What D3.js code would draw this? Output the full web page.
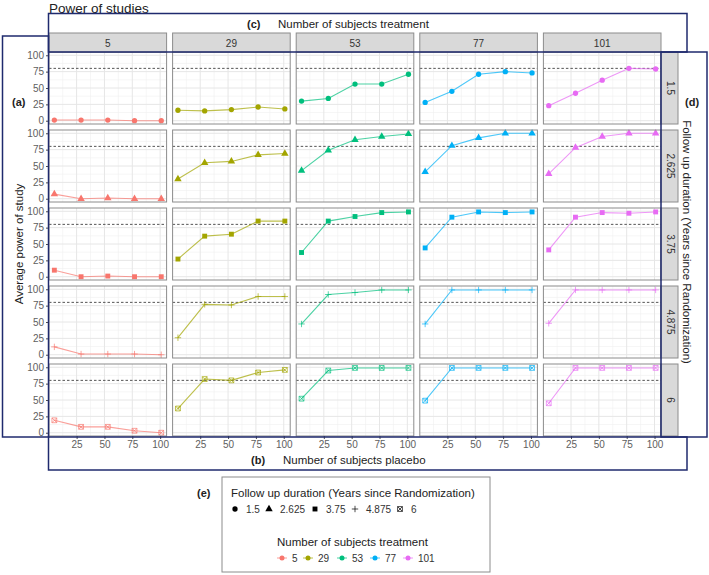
<!DOCTYPE html>
<html>
<head>
<meta charset="utf-8">
<script src="https://cdn.jsdelivr.net/npm/d3@7"></script>
<style>
  body { margin: 0; background: #fff; }
  svg { font-family: "Liberation Sans", Arial, sans-serif; }
</style>
</head>
<body>
<svg id="chart" width="709" height="575"></svg>
<script>
// ---------------- DATA ----------------
const treatment = [5, 29, 53, 77, 101];          // columns (Number of subjects treatment)
const followUp = ["1.5", "2.625", "3.75", "4.875", "6"]; // rows (Follow up duration)
const placebo = [5, 29, 53, 77, 101];            // x values (Number of subjects placebo)
const xTicks = [25, 50, 75, 100];
const yTicks = [0, 25, 50, 75, 100];
const threshold = 80;
const seriesColors = ["#F8766D", "#A3A500", "#00BF7D", "#00B0F6", "#E76BF3"];

// power[followUpIndex][treatmentIndex] = values over placebo
const power_1_5 = [
  [1, 1, 1, 0, 0],
  [16, 15, 17, 21, 18],
  [30, 34, 56, 56, 71],
  [28, 45, 71, 75, 73],
  [23, 42, 62, 80, 79]
];
const power_2_625 = [
  [7, 0, 1, 0, 0],
  [30, 55, 57, 67, 69],
  [43, 74, 90, 95, 99],
  [41, 81, 93, 100, 100],
  [38, 78, 95, 100, 100]
];
const power_3_75 = [
  [10, 0, 1, 0, 0],
  [27, 62, 65, 85, 85],
  [37, 85, 92, 98, 99],
  [44, 91, 99, 98, 99],
  [41, 91, 98, 97, 99]
];
const power_4_875 = [
  [12, 1, 1, 1, 0],
  [26, 77, 76, 89, 89],
  [47, 92, 95, 99, 99],
  [47, 99, 99, 99, 99],
  [48, 99, 99, 99, 99]
];
const power_6 = [
  [19, 9, 9, 3, 0],
  [37, 82, 80, 92, 96],
  [52, 95, 99, 99, 99],
  [49, 99, 99, 99, 99],
  [45, 99, 99, 99, 99]
];
const powerByRow = [power_1_5, power_2_625, power_3_75, power_4_875, power_6];

// ---------------- LAYOUT ----------------
const svg = d3.select("#chart");
const L = { left: 49, right: 661, top: 52, rowH: 72, rowGap: 6, colGap: 6 };
const colW = (L.right - L.left - 4 * L.colGap) / 5;
const colX = i => L.left + i * (colW + L.colGap);
const rowY = j => L.top + j * (L.rowH + L.rowGap);

const x = d3.scaleLinear().domain([0.2, 105.8]).range([0, colW]);
const y = d3.scaleLinear().domain([-5, 105]).range([L.rowH, 0]);

const navy = "#1f2a6e";
const tickCol = "#5e5e5e";

// shape drawers (size ~ ggplot points)
function shapePath(k) {
  const s = 2.4;
  switch (k) {
    case 0: return d3.symbol(d3.symbolCircle, 22)();
    case 1: return d3.symbol(d3.symbolTriangle, 24)();
    case 2: return d3.symbol(d3.symbolSquare, 24)();
    case 3: return `M${-3.2},0H3.2M0,${-3.2}V3.2`;
    case 4: return `M${-s},${-s}H${s}V${s}H${-s}Z M${-s},${-s}L${s},${s} M${s},${-s}L${-s},${s}`;
  }
}
const filledShape = k => k <= 2;

// ---------------- PANELS ----------------
followUp.forEach((fu, j) => {
  treatment.forEach((tr, i) => {
    const g = svg.append("g").attr("transform", `translate(${colX(i)},${rowY(j)})`);
    g.append("rect").attr("width", colW).attr("height", L.rowH).attr("fill", "#fff");
    // minor grid
    const xMinor = [12.5, 37.5, 62.5, 87.5];
    const yMinor = [12.5, 37.5, 62.5, 87.5];
    g.selectAll(".xm").data(xMinor).enter().append("line")
      .attr("x1", d => x(d)).attr("x2", d => x(d)).attr("y1", 0).attr("y2", L.rowH)
      .attr("stroke", "#f0f0f0").attr("stroke-width", 0.6);
    g.selectAll(".ym").data(yMinor).enter().append("line")
      .attr("y1", d => y(d)).attr("y2", d => y(d)).attr("x1", 0).attr("x2", colW)
      .attr("stroke", "#f0f0f0").attr("stroke-width", 0.6);
    // major grid
    g.selectAll(".xg").data(xTicks).enter().append("line")
      .attr("x1", d => x(d)).attr("x2", d => x(d)).attr("y1", 0).attr("y2", L.rowH)
      .attr("stroke", "#e6e6e6").attr("stroke-width", 1);
    g.selectAll(".yg").data(yTicks).enter().append("line")
      .attr("y1", d => y(d)).attr("y2", d => y(d)).attr("x1", 0).attr("x2", colW)
      .attr("stroke", "#e6e6e6").attr("stroke-width", 1);
    // threshold
    g.append("line").attr("x1", 0).attr("x2", colW)
      .attr("y1", y(threshold)).attr("y2", y(threshold))
      .attr("stroke", "#555").attr("stroke-width", 1).attr("stroke-dasharray", "2.5,2");

    const vals = powerByRow[j][i];
    const pts = placebo.map((p, k) => ({ p, v: vals[k] }));
    const col = seriesColors[i];
    g.append("path").datum(pts)
      .attr("d", d3.line().x(d => x(d.p)).y(d => y(d.v)))
      .attr("fill", "none").attr("stroke", col).attr("stroke-width", 1.1)
      .attr("stroke-opacity", 0.7);
    g.selectAll(".pt").data(pts).enter().append("path")
      .attr("transform", d => `translate(${x(d.p)},${y(d.v)})`)
      .attr("d", shapePath(j))
      .attr("fill", filledShape(j) ? col : "none")
      .attr("stroke", col)
      .attr("stroke-width", filledShape(j) ? 0 : 0.9)
      .attr("stroke-opacity", filledShape(j) ? 1 : 0.75);

    g.append("rect").attr("width", colW).attr("height", L.rowH)
      .attr("fill", "none").attr("stroke", "#8c8c8c").attr("stroke-width", 1);

    // y axis on first column
    if (i === 0) {
      const ya = d3.axisLeft(y).tickValues(yTicks).tickSize(3).tickPadding(2);
      const ag = g.append("g").call(ya);
      ag.select(".domain").remove();
      ag.selectAll("line").attr("stroke", "#4d4d4d");
      ag.selectAll("text").attr("fill", tickCol).style("font-size", "10px")
        .style("font-family", "Liberation Sans, Arial, sans-serif");
    }
    // x axis on last row
    if (j === followUp.length - 1) {
      const xa = d3.axisBottom(x).tickValues(xTicks).tickSize(3).tickPadding(2);
      const ag = g.append("g").attr("transform", `translate(0,${L.rowH})`).call(xa);
      ag.select(".domain").remove();
      ag.selectAll("line").attr("stroke", "#4d4d4d");
      ag.selectAll("text").attr("fill", tickCol).style("font-size", "10px")
        .style("font-family", "Liberation Sans, Arial, sans-serif");
    }
  });
});

// strips (top)
treatment.forEach((tr, i) => {
  svg.append("rect").attr("x", colX(i)).attr("y", 33).attr("width", colW).attr("height", L.top - 33)
    .attr("fill", "#d9d9d9").attr("stroke", "#8c8c8c").attr("stroke-width", 1);
  svg.append("text").attr("x", colX(i) + colW / 2).attr("y", 46.5)
    .attr("text-anchor", "middle").attr("fill", "#333").style("font-size", "10px").text(tr);
});
// strips (right)
followUp.forEach((fu, j) => {
  svg.append("rect").attr("x", L.right).attr("y", rowY(j)).attr("width", 17).attr("height", L.rowH)
    .attr("fill", "#d9d9d9").attr("stroke", "#8c8c8c").attr("stroke-width", 1);
  svg.append("text")
    .attr("transform", `translate(${L.right + 5.5},${rowY(j) + L.rowH / 2}) rotate(90)`)
    .attr("text-anchor", "middle").attr("fill", "#333").style("font-size", "10px").text(fu);
});

// titles
svg.append("text").attr("x", 49).attr("y", 12.5).style("font-size", "13.5px").attr("fill", "#222")
  .text("Power of studies");
svg.append("text").attr("x", 247).attr("y", 28).style("font-size", "11px").style("font-weight", "bold")
  .attr("fill", "#222").text("(c)");
svg.append("text").attr("x", 278).attr("y", 28).style("font-size", "11.5px").attr("fill", "#222")
  .text("Number of subjects treatment");
svg.append("text").attr("x", 251).attr("y", 464).style("font-size", "11px").style("font-weight", "bold")
  .attr("fill", "#222").text("(b)");
svg.append("text").attr("x", 283).attr("y", 464).style("font-size", "11.5px").attr("fill", "#222")
  .text("Number of subjects placebo");
svg.append("text").attr("x", 12).attr("y", 106).style("font-size", "11px").style("font-weight", "bold")
  .attr("fill", "#222").text("(a)");
svg.append("text").attr("transform", `translate(23,${L.top + (5 * L.rowH + 4 * L.rowGap) / 2}) rotate(-90)`)
  .attr("text-anchor", "middle").style("font-size", "11.5px").attr("fill", "#222")
  .text("Average power of study");
svg.append("text").attr("x", 685).attr("y", 106).style("font-size", "11px").style("font-weight", "bold")
  .attr("fill", "#222").text("(d)");
svg.append("text").attr("transform", `translate(683,${L.top + (5 * L.rowH + 4 * L.rowGap) / 2 - 2}) rotate(90)`)
  .attr("text-anchor", "middle").style("font-size", "11.5px").attr("fill", "#222")
  .text("Follow up duration (Years since Randomization)");

// annotation boxes
const box = (x0, y0, x1, y1) => svg.append("rect").attr("x", x0).attr("y", y0)
  .attr("width", x1 - x0).attr("height", y1 - y0)
  .attr("fill", "none").attr("stroke", navy).attr("stroke-width", 1.5);
box(48.5, 13.5, 687, 52);
box(2.5, 36, 48.5, 437);
box(48.5, 437, 687, 470);
box(661, 52, 707, 437);

// ---------------- LEGEND ----------------
svg.append("rect").attr("x", 222).attr("y", 477).attr("width", 268).attr("height", 95)
  .attr("fill", "#fff").attr("stroke", "#8c8c8c").attr("stroke-width", 1);
svg.append("text").attr("x", 197).attr("y", 497).style("font-size", "11px").style("font-weight", "bold")
  .attr("fill", "#222").text("(e)");
svg.append("text").attr("x", 231).attr("y", 497).style("font-size", "11.5px").attr("fill", "#222")
  .text("Follow up duration (Years since Randomization)");
const shapeX = [235, 269, 315, 355, 400];
followUp.forEach((fu, k) => {
  svg.append("path").attr("transform", `translate(${shapeX[k]},509)`)
    .attr("d", shapePath(k)).attr("fill", filledShape(k) ? "#000" : "none")
    .attr("stroke", "#000").attr("stroke-width", filledShape(k) ? 0 : 0.7);
  svg.append("text").attr("x", shapeX[k] + 11).attr("y", 512.5).style("font-size", "10px")
    .attr("fill", "#333").text(fu);
});
svg.append("text").attr("x", 277).attr("y", 546).style("font-size", "11.5px").attr("fill", "#222")
  .text("Number of subjects treatment");
const colorX = [282, 308, 342, 375, 408];
treatment.forEach((tr, k) => {
  const c = seriesColors[k];
  svg.append("line").attr("x1", colorX[k] - 5).attr("x2", colorX[k] + 5)
    .attr("y1", 558).attr("y2", 558).attr("stroke", c).attr("stroke-opacity", 0.7);
  svg.append("circle").attr("cx", colorX[k]).attr("cy", 558).attr("r", 2.5).attr("fill", c);
  svg.append("text").attr("x", colorX[k] + 10).attr("y", 561.5).style("font-size", "10px")
    .attr("fill", "#333").text(tr);
});
</script>
</body>
</html>
